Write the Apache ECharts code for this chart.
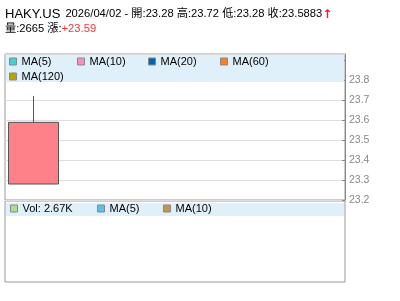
<!DOCTYPE html>
<html>
<head>
<meta charset="utf-8">
<script src="https://cdn.jsdelivr.net/npm/echarts@6/dist/echarts.min.js"></script>
<style>
html,body{margin:0;padding:0;background:#fff;}
#c{width:400px;height:301px;}
</style>
</head>
<body>
<div id="c"></div>
<script>
// ---- data ----
const symbol = 'HAKY.US';
const dates = ['2026/04/02'];
const opens = [23.28];
const highs = [23.72];
const lows = [23.28];
const closes = [23.5883];
const volumes = [2665];
const change = '+23.59';
const priceTicks = ['23.2', '23.3', '23.4', '23.5', '23.6', '23.7', '23.8'];
const maNames = ['MA(5)', 'MA(10)', 'MA(20)', 'MA(60)', 'MA(120)'];
const volMaNames = ['MA(5)', 'MA(10)'];
const slotCount = 6;

// ---- build ----
const categories = [];
for (let i = 0; i < slotCount; i++) categories.push(i < dates.length ? dates[i] : '');
const candleData = dates.map((d, i) => [opens[i], closes[i], lows[i], highs[i]]);
const last = dates.length - 1;
const volText = 'Vol: ' + (volumes[last] / 1000).toFixed(2) + 'K';

const maColors = ['#3fd2d0', '#ff8cc0', '#0062b8', '#ff7f20', '#b8a400'];
const volMaColors = ['#58c0ec', '#c89250'];
const FONT = '"Liberation Sans", Arial, "Noto Sans CJK TC", sans-serif';

const chart = echarts.init(document.getElementById('c'), null, {renderer: 'canvas'});

const maSeries = maNames.map((n, i) => ({
  name: n, type: 'line', xAxisIndex: 0, yAxisIndex: 0, data: [], color: maColors[i], showSymbol: false
}));
const volMaSeries = volMaNames.map((n, i) => ({
  name: 'V' + n, type: 'line', xAxisIndex: 1, yAxisIndex: 1, data: [], color: volMaColors[i], showSymbol: false
}));

const legendBase = {
  orient: 'horizontal', padding: 0, icon: 'rect', itemWidth: 7, itemHeight: 7,
  itemStyle: {borderColor: '#888', borderWidth: 1},
  textStyle: {fontSize: 11, color: '#000', fontFamily: FONT},
  selectedMode: false, z: 5
};
const maLegendPos = [[9, 56], [77, 56], [148, 56], [220, 56], [9, 71]];
const legends = maNames.map((n, i) => Object.assign({}, legendBase, {
  data: [n], left: maLegendPos[i][0], top: maLegendPos[i][1]
}));
legends.push(Object.assign({}, legendBase, {data: ['Vol'], left: 10, top: 203, formatter: () => volText}));
const volMaPos = [97, 163];
volMaNames.forEach((n, i) => legends.push(Object.assign({}, legendBase, {
  data: ['V' + n], left: volMaPos[i], top: 203, formatter: (name) => name.slice(1)
})));

const option = {
  animation: false,
  backgroundColor: '#fff',
  title: {
    left: 5, top: 5, padding: 0, itemGap: 0,
    text: '{n|' + symbol + '} {i|' + dates[last] + ' - 開:' + opens[last].toFixed(2) +
      ' 高:' + highs[last].toFixed(2) + ' 低:' + lows[last].toFixed(2) + ' 收:' + closes[last] + '}{r|↑}',
    textStyle: {
      rich: {
        n: {fontSize: 13, color: '#000', fontFamily: FONT, fontWeight: 'normal'},
        i: {fontSize: 11.2, color: '#000', fontFamily: FONT, fontWeight: 'normal'},
        r: {fontSize: 12, color: '#ff1a1a', fontFamily: '"DejaVu Sans", sans-serif', fontWeight: 'bold', padding: [2, 0, 0, 0]}
      }
    },
    subtext: '{i|量:' + volumes[last] + ' 漲:}{r|' + change + '}',
    subtextStyle: {
      rich: {
        i: {fontSize: 11.2, color: '#000', fontFamily: FONT},
        r: {fontSize: 11.2, color: '#ff3030', fontFamily: FONT}
      }
    }
  },
  legend: legends,
  graphic: [
    {type: 'rect', left: 6, top: 55, shape: {width: 338, height: 27}, style: {fill: '#dff0fa'}, z: 3, silent: true},
    {type: 'rect', left: 6, top: 203, shape: {width: 338, height: 13}, style: {fill: '#dff0fa'}, z: 3, silent: true}
  ],
  grid: [
    {left: 5, top: 54, width: 340, height: 146, show: true, borderColor: '#999', borderWidth: 1, backgroundColor: 'transparent'},
    {left: 5, top: 201, width: 340, height: 81, show: true, borderColor: '#999', borderWidth: 1, backgroundColor: 'transparent'}
  ],
  xAxis: [
    {type: 'category', gridIndex: 0, data: categories, boundaryGap: true,
      axisLine: {show: false}, axisTick: {show: false}, axisLabel: {show: false}, splitLine: {show: false}},
    {type: 'category', gridIndex: 1, data: categories, boundaryGap: true,
      axisLine: {show: false}, axisTick: {show: false}, axisLabel: {show: false}, splitLine: {show: false}}
  ],
  yAxis: [
    {type: 'value', gridIndex: 0, position: 'right', min: 23.2, max: 23.93, interval: 0.1,
      axisLine: {show: true, lineStyle: {color: '#888'}},
      axisTick: {show: true, inside: true, length: 3, lineStyle: {color: '#888'}},
      axisLabel: {show: true, color: '#888', fontSize: 10.5, fontFamily: FONT, margin: 4,
        showMaxLabel: false,
        formatter: (v) => { const s = v.toFixed(1); return priceTicks.indexOf(s) >= 0 ? s : ''; }},
      splitLine: {show: true, lineStyle: {color: '#ddd', width: 1}}},
    {type: 'value', gridIndex: 1, position: 'right', min: 0, max: 1,
      axisLine: {show: false}, axisTick: {show: false}, axisLabel: {show: false}, splitLine: {show: false}}
  ],
  series: [
    {
      name: symbol, type: 'candlestick', xAxisIndex: 0, yAxisIndex: 0, data: candleData,
      barWidth: '90%',
      itemStyle: {color: '#fe8088', color0: '#7ed07e', borderColor: '#555', borderColor0: '#555', borderWidth: 1}
    },
    ...maSeries,
    {name: 'Vol', type: 'bar', xAxisIndex: 1, yAxisIndex: 1, data: [], color: '#a8e08c'},
    ...volMaSeries
  ]
};
chart.setOption(option);
</script>
</body>
</html>
